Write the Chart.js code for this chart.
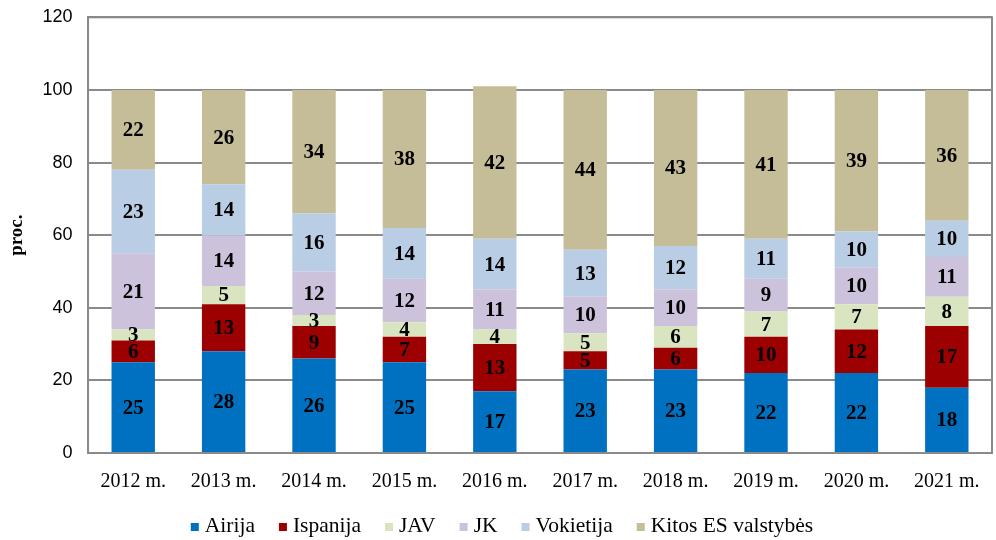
<!DOCTYPE html>
<html>
<head>
<meta charset="utf-8">
<script src="https://cdn.jsdelivr.net/npm/chart.js@4"></script>
<style>
  html, body { margin: 0; padding: 0; background: #fff; }
  #wrap { width: 996px; height: 540px; overflow: hidden; position: relative; }
  #shareChart { position: absolute; left: 0; top: -9px; }
</style>
</head>
<body>
<div id="wrap"><canvas id="shareChart" width="996" height="549"></canvas></div>
<script>
// Duomenys
const years = ['2012 m.', '2013 m.', '2014 m.', '2015 m.', '2016 m.', '2017 m.', '2018 m.', '2019 m.', '2020 m.', '2021 m.'];
const airija    = [25, 28, 26, 25, 17, 23, 23, 22, 22, 18];
const ispanija  = [6, 13, 9, 7, 13, 5, 6, 10, 12, 17];
const jav       = [3, 5, 3, 4, 4, 5, 6, 7, 7, 8];
const jk        = [21, 14, 12, 12, 11, 10, 10, 9, 10, 11];
const vokietija = [23, 14, 16, 14, 14, 13, 12, 11, 10, 10];
const kitosES   = [22, 26, 34, 38, 42, 44, 43, 41, 39, 36];
const yTicks    = [0, 20, 40, 60, 80, 100, 120];

const serif = "'Liberation Serif', 'Times New Roman', serif";
const sans = "'Liberation Sans', Arial, sans-serif";
const gridGray = '#8a8a8a';

// Skaičiai stulpelių viduje
const barLabels = {
    id: 'barLabels',
    afterDatasetsDraw(chart) {
        const ctx = chart.ctx;
        ctx.save();
        ctx.font = 'bold 21px ' + serif;
        ctx.fillStyle = '#000';
        ctx.textAlign = 'center';
        ctx.textBaseline = 'middle';
        chart.data.datasets.forEach((ds, i) => {
            chart.getDatasetMeta(i).data.forEach((bar, j) => {
                const mid = (bar.y + bar.base) / 2;
                ctx.fillText(String(ds.data[j]), bar.x, mid + 1);
            });
        });
        ctx.restore();
    }
};

// Rėmelis aplink grafiko sritį
const plotFrame = {
    id: 'plotFrame',
    afterDraw(chart) {
        const a = chart.chartArea;
        const ctx = chart.ctx;
        ctx.save();
        ctx.strokeStyle = gridGray;
        ctx.lineWidth = 2;
        ctx.strokeRect(a.left, a.top, a.right - a.left, a.bottom - a.top);
        ctx.restore();
    }
};

// Legenda apačioje (savas piešimas, kad tarpai būtų kaip originale)
const bottomLegend = {
    id: 'bottomLegend',
    afterDraw(chart) {
        const ctx = chart.ctx;
        const box = 8, gapText = 6, gapItem = 24;
        ctx.save();
        ctx.font = '21.5px ' + serif;
        ctx.textBaseline = 'middle';
        ctx.textAlign = 'left';
        const items = chart.data.datasets.map(ds => ({
            text: ds.label, color: ds.backgroundColor, w: ctx.measureText(ds.label).width
        }));
        const total = items.reduce((s, it) => s + box + gapText + it.w, 0) + gapItem * (items.length - 1);
        let x = 502 - total / 2;
        const y = 535;
        items.forEach(it => {
            ctx.fillStyle = it.color;
            ctx.fillRect(x, y - box / 2 + 1, box, box);
            x += box + gapText;
            ctx.fillStyle = '#000';
            ctx.fillText(it.text, x, y);
            x += it.w + gapItem;
        });
        ctx.restore();
    }
};

const mk = (label, data, color) => ({ label, data, backgroundColor: color, borderWidth: 0 });

const shareCtx = document.getElementById('shareChart').getContext('2d');
new Chart(shareCtx, {
    type: 'bar',
    data: {
        labels: years,
        datasets: [
            mk('Airija', airija, '#0070C0'),
            mk('Ispanija', ispanija, '#9C0000'),
            mk('JAV', jav, '#D9E4C0'),
            mk('JK', jk, '#CDC2DC'),
            mk('Vokietija', vokietija, '#B9CDE5'),
            mk('Kitos ES valstybės', kitosES, '#C4BD97')
        ]
    },
    options: {
        responsive: false,
        animation: false,
        layout: { padding: { top: 0, right: 4, left: 0, bottom: 37 } },
        datasets: { bar: { categoryPercentage: 1.0, barPercentage: 0.48 } },
        scales: {
            x: {
                stacked: true,
                grid: { display: false },
                border: { color: gridGray, width: 2 },
                ticks: { color: '#000', font: { family: serif, size: 20 }, padding: 9, maxRotation: 0 }
            },
            y: {
                stacked: true,
                min: 0,
                max: 120,
                afterBuildTicks: (axis) => { axis.ticks = yTicks.map(v => ({ value: v })); },
                grid: { color: gridGray, lineWidth: 2, drawTicks: false },
                border: { color: gridGray, width: 2 },
                ticks: { color: '#000', font: { family: sans, size: 18 }, padding: 15.5 },
                title: { display: true, text: 'proc.', color: '#000', font: { family: serif, size: 19, weight: 'bold', lineHeight: 1 }, padding: { top: 8, bottom: 0 } }
            }
        },
        plugins: {
            legend: { display: false },
            tooltip: { enabled: false }
        }
    },
    plugins: [barLabels, plotFrame, bottomLegend]
});
</script>
</body>
</html>
